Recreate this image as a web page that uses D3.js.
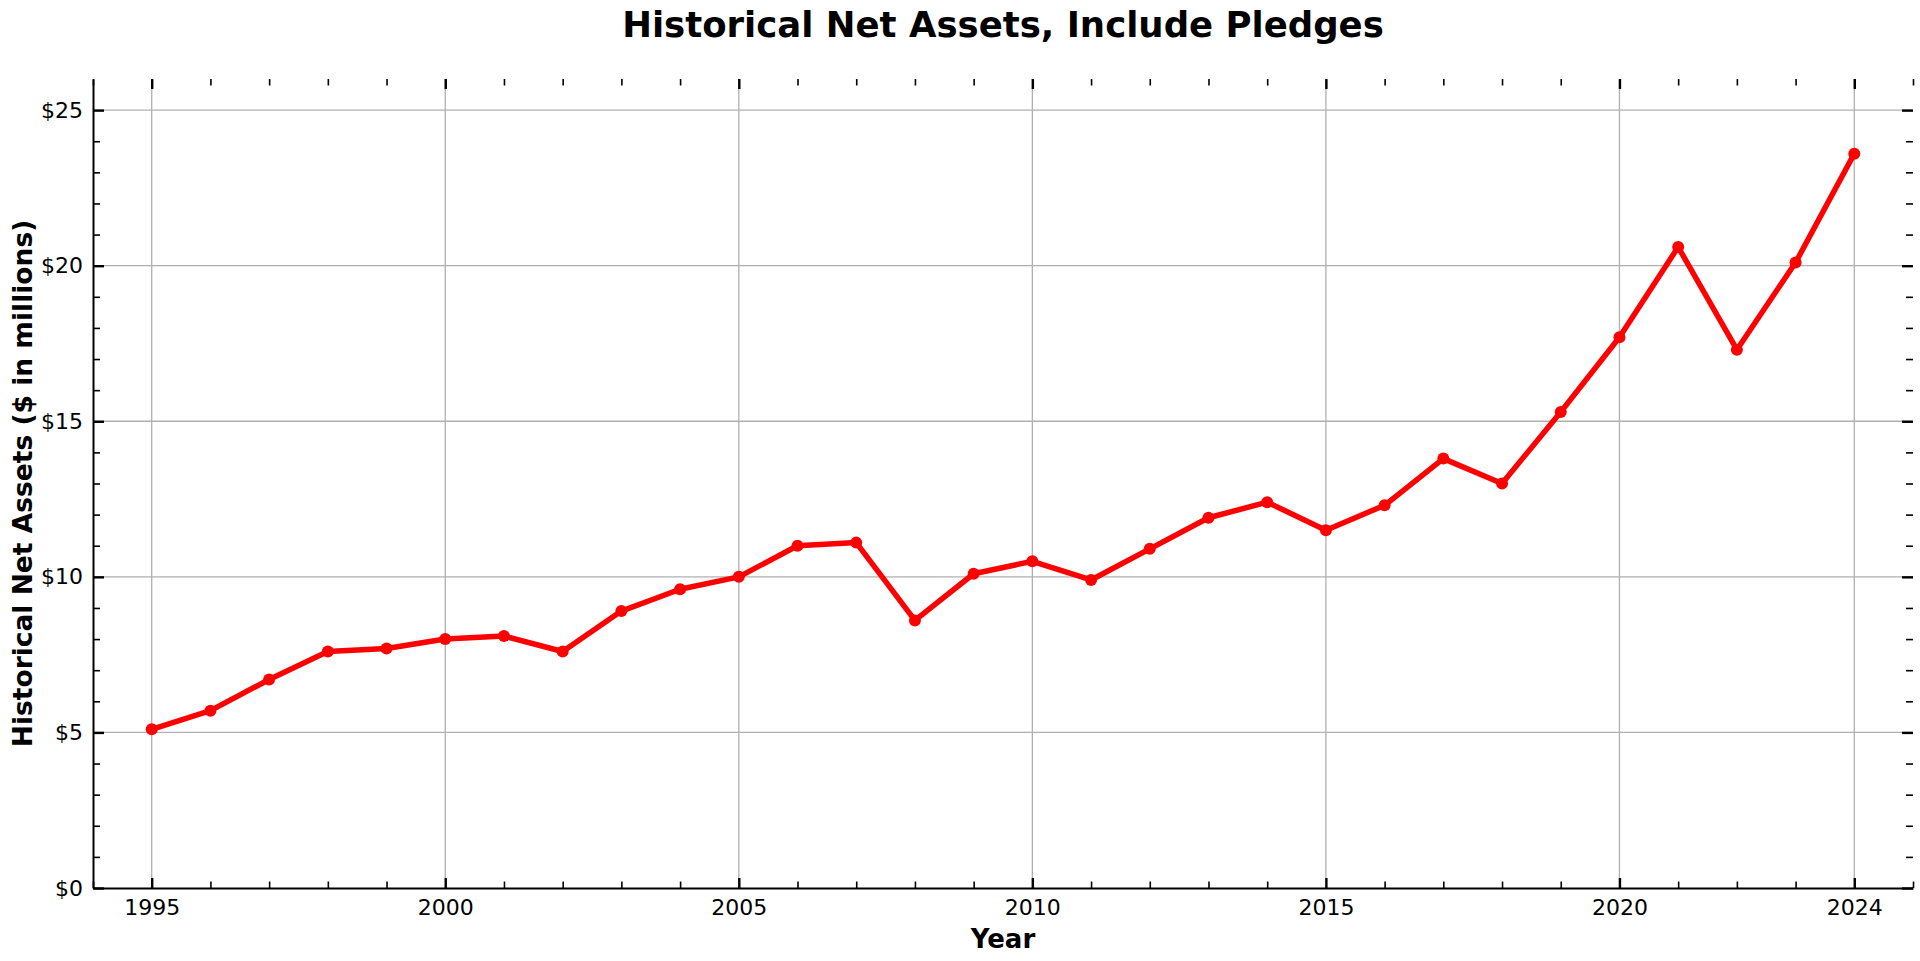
<!DOCTYPE html>
<html>
<head>
<meta charset="utf-8">
<script src="https://cdn.jsdelivr.net/npm/d3@7/dist/d3.min.js"></script>
<style>
  html, body { margin: 0; padding: 0; background: #fff; }
  svg { display: block; font-family: "DejaVu Sans", sans-serif; }
  .domain { stroke: #000; stroke-width: 2; }
  .tick line { stroke: #000; }
</style>
</head>
<body>
<svg id="svg"></svg>
<script>
// data
const years = [1995, 1996, 1997, 1998, 1999, 2000, 2001, 2002, 2003, 2004,
               2005, 2006, 2007, 2008, 2009, 2010, 2011, 2012, 2013, 2014,
               2015, 2016, 2017, 2018, 2019, 2020, 2021, 2022, 2023, 2024];
const netAssets = [5.1, 5.7, 6.7, 7.6, 7.7, 8.0, 8.1, 7.6, 8.9, 9.6,
                   10.0, 11.0, 11.1, 8.6, 10.1, 10.5, 9.9, 10.9, 11.9, 12.4,
                   11.5, 12.3, 13.8, 13.0, 15.3, 17.7, 20.6, 17.3, 20.1, 23.6];
const xMajorTicks = [1995, 2000, 2005, 2010, 2015, 2020, 2024];
const yMajorTicks = [0, 5, 10, 15, 20, 25];
const xMinorTicks = d3.range(1994, 2026).filter(d => !xMajorTicks.includes(d));
const yMinorTicks = d3.range(1, 26).filter(d => d % 5 !== 0);

const svgWidth = 1920;
const svgHeight = 961;
const plotLeft = 93, plotRight = 1913, plotTop = 79, plotBottom = 888;

const svg = d3.select("svg")
    .attr("width", svgWidth)
    .attr("height", svgHeight);

const x = d3.scaleLinear().domain([1994, 2025]).range([plotLeft, plotRight]);
const y = d3.scaleLinear().domain([0, 26]).range([plotBottom, plotTop]);

// grid
const grid = svg.append("g");
grid.selectAll("line.gx")
    .data(xMajorTicks)
    .enter()
    .append("line")
    .attr("x1", d => x(d)).attr("x2", d => x(d))
    .attr("y1", plotTop).attr("y2", plotBottom)
    .attr("stroke", "#b0b0b0").attr("stroke-width", 1.3);
grid.selectAll("line.gy")
    .data(yMajorTicks.filter(d => d > 0))
    .enter()
    .append("line")
    .attr("x1", plotLeft).attr("x2", plotRight)
    .attr("y1", d => y(d)).attr("y2", d => y(d))
    .attr("stroke", "#b0b0b0").attr("stroke-width", 1.3);

// axes, ticks inward on all sides
function styleAxis(g, width, keepDomain) {
    g.selectAll(".tick line").attr("stroke-width", width);
    if (!keepDomain) g.select(".domain").remove();
    g.selectAll(".tick text")
        .attr("fill", "#000")
        .style("font-size", "22px")
        .style("font-family", "DejaVu Sans");
}

// bottom
svg.append("g").attr("transform", `translate(0,${plotBottom})`)
    .call(d3.axisBottom(x).tickValues(xMinorTicks).tickSize(-6.5).tickFormat(""))
    .call(g => styleAxis(g, 1.6, false));
svg.append("g").attr("transform", `translate(0,${plotBottom})`)
    .call(d3.axisBottom(x).tickValues(xMajorTicks).tickSize(-10).tickSizeOuter(0)
        .tickPadding(11).tickFormat(d3.format("d")))
    .call(g => styleAxis(g, 2.4, true));

// left
svg.append("g").attr("transform", `translate(${plotLeft},0)`)
    .call(d3.axisLeft(y).tickValues(yMinorTicks).tickSize(-7).tickFormat(""))
    .call(g => styleAxis(g, 1.6, false));
svg.append("g").attr("transform", `translate(${plotLeft},0)`)
    .call(d3.axisLeft(y).tickValues(yMajorTicks).tickSize(-11).tickSizeOuter(0)
        .tickPadding(10).tickFormat(d => "$" + d))
    .call(g => styleAxis(g, 2.4, true));

// top
svg.append("g").attr("transform", `translate(0,${plotTop})`)
    .call(d3.axisTop(x).tickValues(xMinorTicks).tickSize(-6.5).tickFormat(""))
    .call(g => styleAxis(g, 1.6, false));
svg.append("g").attr("transform", `translate(0,${plotTop})`)
    .call(d3.axisTop(x).tickValues(xMajorTicks).tickSize(-10).tickFormat(""))
    .call(g => styleAxis(g, 2.4, false));

// right
svg.append("g").attr("transform", `translate(${plotRight},0)`)
    .call(d3.axisRight(y).tickValues(yMinorTicks).tickSize(-7).tickFormat(""))
    .call(g => styleAxis(g, 1.6, false));
svg.append("g").attr("transform", `translate(${plotRight},0)`)
    .call(d3.axisRight(y).tickValues(yMajorTicks).tickSize(-11).tickFormat(""))
    .call(g => styleAxis(g, 2.4, false));

// line and markers
const line = d3.line()
    .x((d, i) => x(years[i]))
    .y(d => y(d));

svg.append("path")
    .datum(netAssets)
    .attr("d", line)
    .attr("fill", "none")
    .attr("stroke", "#ff0000")
    .attr("stroke-width", 5.5)
    .attr("stroke-linejoin", "round")
    .attr("stroke-linecap", "round");

svg.selectAll("circle")
    .data(netAssets)
    .enter()
    .append("circle")
    .attr("cx", (d, i) => x(years[i]))
    .attr("cy", d => y(d))
    .attr("r", 6)
    .attr("fill", "#ff0000");

// titles
svg.append("text")
    .attr("x", (plotLeft + plotRight) / 2)
    .attr("y", 37)
    .attr("text-anchor", "middle")
    .style("font-size", "35.5px")
    .style("font-weight", "bold")
    .text("Historical Net Assets, Include Pledges");

svg.append("text")
    .attr("x", (plotLeft + plotRight) / 2)
    .attr("y", 948)
    .attr("text-anchor", "middle")
    .style("font-size", "26px")
    .style("font-weight", "bold")
    .text("Year");

svg.append("text")
    .attr("transform", `translate(32,${(plotTop + plotBottom) / 2}) rotate(-90)`)
    .attr("text-anchor", "middle")
    .style("font-size", "26.5px")
    .style("font-weight", "bold")
    .text("Historical Net Assets ($ in millions)");
</script>
</body>
</html>
